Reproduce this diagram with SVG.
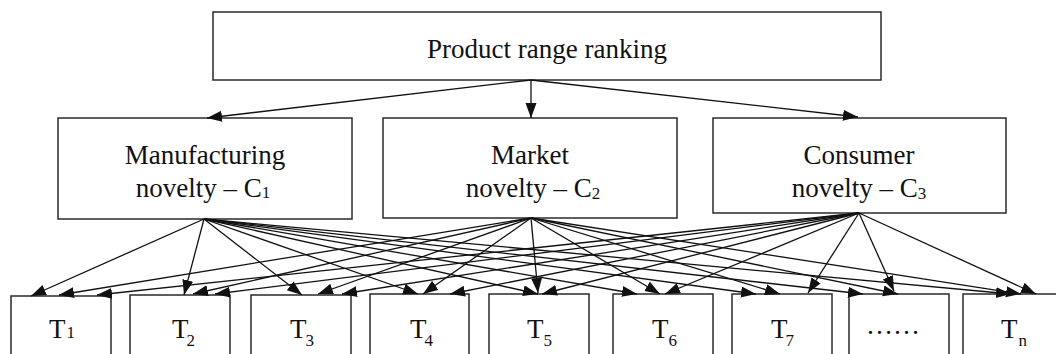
<svg xmlns="http://www.w3.org/2000/svg" width="1056" height="354" viewBox="0 0 1056 354">
<style>
.box{fill:#fff;stroke:#2a2a2a;stroke-width:1.5}
.lbl{font-family:"Liberation Serif","Times New Roman",serif;font-size:27px;fill:#111}
.mid{text-anchor:middle}
.sub{font-size:17px}
.cn line{stroke:#111;stroke-width:1.3;marker-end:url(#ah)}
</style>
<defs>
<marker id="ah" markerUnits="userSpaceOnUse" markerWidth="17" markerHeight="12" refX="15" refY="5.5" orient="auto">
<path d="M0,0 L15,5.5 L0,11 z" fill="#111"/>
</marker>
</defs>
<rect width="1056" height="354" fill="#fff"/>
<g id="top"><rect class="box" x="213" y="12" width="668" height="68"/>
<text class="lbl mid" x="547" y="58">Product range ranking</text></g>
<g id="c1"><rect class="box" x="58" y="118" width="294" height="101"/>
<text class="lbl mid" x="205" y="164">Manufacturing</text>
<text class="lbl mid" x="203" y="197">novelty – C<tspan class="sub" dy="1">1</tspan></text></g>
<g id="c2"><rect class="box" x="383" y="118" width="294" height="100"/>
<text class="lbl mid" x="530" y="164">Market</text>
<text class="lbl mid" x="533" y="197">novelty – C<tspan class="sub" dy="2">2</tspan></text></g>
<g id="c3"><rect class="box" x="713" y="118" width="293" height="95"/>
<text class="lbl mid" x="859" y="164">Consumer</text>
<text class="lbl mid" x="859" y="197">novelty – C<tspan class="sub" dy="2">3</tspan></text></g>
<g id="t1"><rect class="box" x="11" y="296" width="100" height="70"/>
<text class="lbl" x="49" y="338">T<tspan class="sub" dx="1">1</tspan></text></g>
<g id="t2"><rect class="box" x="130" y="295" width="100" height="70"/>
<text class="lbl" x="172" y="338">T<tspan class="sub" dx="-2" dy="8">2</tspan></text></g>
<g id="t3"><rect class="box" x="251" y="295" width="100" height="70"/>
<text class="lbl" x="290" y="338">T<tspan class="sub" dx="-1" dy="8">3</tspan></text></g>
<g id="t4"><rect class="box" x="370" y="294" width="99" height="70"/>
<text class="lbl" x="410" y="338">T<tspan class="sub" dx="-2" dy="8">4</tspan></text></g>
<g id="t5"><rect class="box" x="489" y="294" width="100" height="70"/>
<text class="lbl" x="527" y="338">T<tspan class="sub" dx="0" dy="8">5</tspan></text></g>
<g id="t6"><rect class="box" x="613" y="294" width="100" height="70"/>
<text class="lbl" x="652" y="338">T<tspan class="sub" dx="0" dy="8">6</tspan></text></g>
<g id="t7"><rect class="box" x="732" y="294" width="100" height="70"/>
<text class="lbl" x="771" y="338">T<tspan class="sub" dx="-2" dy="8">7</tspan></text></g>
<g id="tdots"><rect class="box" x="849" y="294" width="100" height="70"/>
<text class="lbl" x="893" y="334" text-anchor="middle" font-size="21">……</text></g>
<g id="tn"><rect class="box" x="963" y="294" width="100" height="70"/>
<text class="lbl" x="1001" y="338">T<tspan class="sub" dx="1" dy="8">n</tspan></text></g>
<g id="connectors" class="cn">
<line x1="531" y1="80" x2="207" y2="118"/>
<line x1="531" y1="80" x2="531" y2="118"/>
<line x1="531" y1="80" x2="858" y2="117"/>
<line x1="204" y1="219" x2="31" y2="296"/>
<line x1="204" y1="219" x2="184" y2="295"/>
<line x1="204" y1="219" x2="302" y2="295"/>
<line x1="204" y1="219" x2="418" y2="294"/>
<line x1="204" y1="219" x2="538" y2="294"/>
<line x1="204" y1="219" x2="637" y2="294"/>
<line x1="204" y1="219" x2="756" y2="294"/>
<line x1="204" y1="219" x2="863" y2="294"/>
<line x1="204" y1="219" x2="1011" y2="294"/>
<line x1="531" y1="218" x2="59" y2="295"/>
<line x1="531" y1="218" x2="193" y2="294"/>
<line x1="531" y1="218" x2="318" y2="294"/>
<line x1="531" y1="218" x2="423" y2="294"/>
<line x1="531" y1="218" x2="538" y2="293"/>
<line x1="531" y1="218" x2="660" y2="294"/>
<line x1="531" y1="218" x2="780" y2="294"/>
<line x1="531" y1="218" x2="898" y2="294"/>
<line x1="531" y1="218" x2="1021" y2="294"/>
<line x1="859" y1="213" x2="97" y2="295"/>
<line x1="859" y1="213" x2="215" y2="294"/>
<line x1="859" y1="213" x2="342" y2="294"/>
<line x1="859" y1="213" x2="450" y2="294"/>
<line x1="859" y1="213" x2="542" y2="294"/>
<line x1="859" y1="213" x2="665" y2="294"/>
<line x1="859" y1="213" x2="808" y2="293"/>
<line x1="859" y1="213" x2="894" y2="291"/>
<line x1="859" y1="213" x2="1036" y2="294"/>
</g>
</svg>
